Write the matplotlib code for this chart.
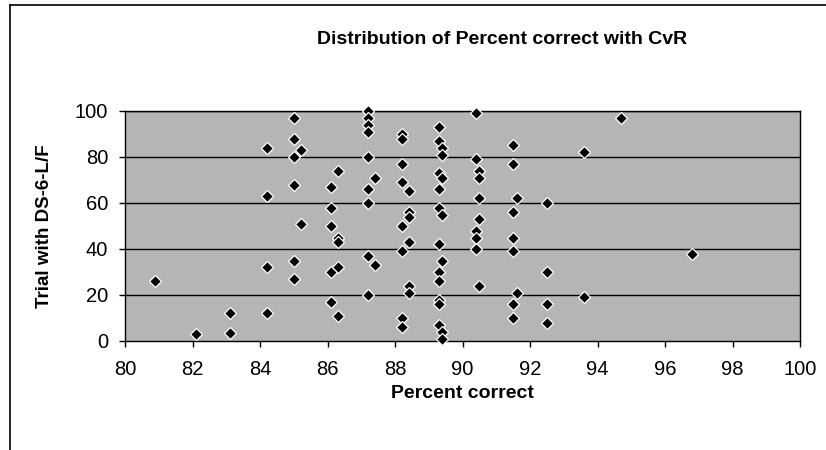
import numpy as np
import matplotlib
matplotlib.use('Agg')
import matplotlib.pyplot as plt
from matplotlib.lines import Line2D

# percent correct (x) for each trial value (y), grouped by column
pc_80_9 = [26]
pc_82_1 = [3]
pc_83_1 = [12, 3.5]
pc_84_2 = [84, 63, 32, 12]
pc_85_0 = [97, 88, 80, 68, 35, 27]
pc_85_2 = [83, 51]
pc_86_1 = [67, 58, 50, 30, 17]
pc_86_3 = [74, 45, 43, 32, 11]
pc_87_2 = [100, 97, 94, 91, 80, 66, 60, 37, 20]
pc_87_4 = [71, 33]
pc_88_2 = [90, 88, 77, 69, 50, 39, 10, 6]
pc_88_4 = [65, 56, 54, 43, 24, 21]
pc_89_3 = [93, 87, 73, 66, 58, 42, 30, 26, 18, 16, 7]
pc_89_4 = [84, 81, 71, 55, 35, 4, 1]
pc_90_4 = [99, 79, 48, 45, 40]
pc_90_5 = [74, 71, 62, 53, 24]
pc_91_5 = [85, 77, 56, 45, 39, 16, 10]
pc_91_6 = [62, 21]
pc_92_5 = [60, 30, 16, 8]
pc_93_6 = [82, 19]
pc_94_7 = [97]
pc_96_8 = [38]

columns = [80.9, 82.1, 83.1, 84.2, 85.0, 85.2, 86.1, 86.3, 87.2, 87.4, 88.2,
           88.4, 89.3, 89.4, 90.4, 90.5, 91.5, 91.6, 92.5, 93.6, 94.7, 96.8]
trials = [pc_80_9, pc_82_1, pc_83_1, pc_84_2, pc_85_0, pc_85_2, pc_86_1,
          pc_86_3, pc_87_2, pc_87_4, pc_88_2, pc_88_4, pc_89_3, pc_89_4,
          pc_90_4, pc_90_5, pc_91_5, pc_91_6, pc_92_5, pc_93_6, pc_94_7,
          pc_96_8]

x = []
y = []
for c, vals in zip(columns, trials):
    x += [c] * len(vals)
    y += vals

xticks = np.arange(80, 101, 2)
yticks = np.arange(0, 101, 20)

plt.rcParams['font.family'] = ['Liberation Sans', 'DejaVu Sans']

fig = plt.figure(figsize=(8.26, 4.5), dpi=100)
ax = fig.add_axes([125/826, 1 - 341/450, 675/826, 230/450])
ax.set_facecolor('#b5b5b5')

ax.plot(x, y, linestyle='none', marker='D', markersize=6.6,
        markerfacecolor='black', markeredgecolor='white',
        markeredgewidth=0.9, zorder=3, clip_on=False)

ax.set_xlim(80, 100)
ax.set_ylim(0, 100)
ax.set_xticks(xticks)
ax.set_yticks(yticks)
ax.tick_params(direction='out', length=4, width=1, color='black',
               labelsize=14.5)
ax.tick_params(axis='x', pad=10)
ax.tick_params(axis='y', pad=8)
for yy in yticks[1:]:
    ax.axhline(yy, color='black', lw=1, zorder=2)
for s in ax.spines.values():
    s.set_color('black')
    s.set_linewidth(1)

ax.set_xlabel('Percent correct', fontsize=14, fontweight='bold', labelpad=4)
ax.set_ylabel('Trial with DS-6-L/F', fontsize=13.5, fontweight='bold', labelpad=16)
fig.text(502/826, 1 - 40/450, 'Distribution of Percent correct with CvR',
         ha='center', va='center', fontsize=14, fontweight='bold')

# chart area border
fig.add_artist(Line2D([10/826, 10/826], [0, 1 - 5/450], color='black', lw=1.2))
fig.add_artist(Line2D([10/826, 1], [1 - 5/450, 1 - 5/450], color='black', lw=1.2))

fig.savefig('out.png', dpi=100)
